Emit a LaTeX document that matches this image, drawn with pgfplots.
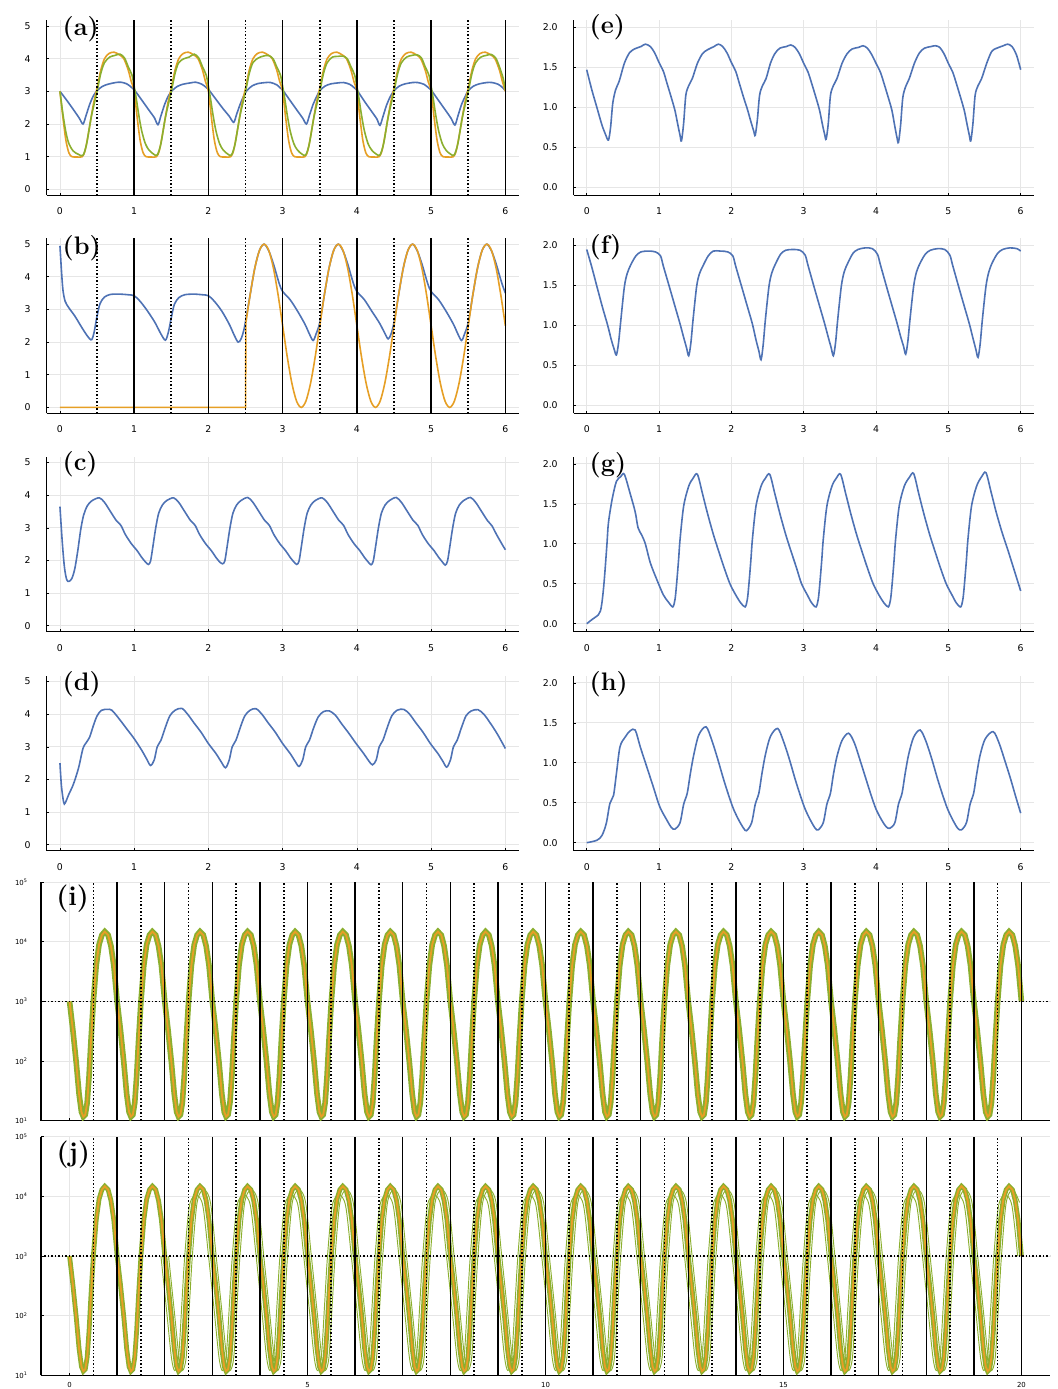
\documentclass[border=0pt]{standalone}
\usepackage{fontspec}
\newfontfamily\tickfont{DejaVu Sans}
\usepackage{pgfplots}
\usepackage{pgfplotstable}
\pgfplotsset{compat=1.18}
\definecolor{cblue}{HTML}{4E72B4}
\definecolor{corange}{HTML}{E69F25}
\definecolor{cgreen}{HTML}{8BAF2F}
\definecolor{gridgray}{HTML}{E6E6E6}

\tikzset{
  solline/.style={black, line width=1.1pt},
  dotline/.style={black, line width=1.25pt, dash pattern=on 1.1pt off 1.5pt},
  lab/.style={anchor=base west, font=\fontsize{19}{19}\selectfont\bfseries},
}
\pgfplotsset{
  pbase/.style={scale only axis, anchor=south west,
    axis x line=bottom, axis y line=left, axis line style={-,black,line width=0.8pt},
    grid=major, major grid style={gridgray,line width=0.6pt},
    tick align=inside, major tick length=2pt, tick style={black,line width=0.5pt},
    /pgf/number format/assume math mode=true},
  psmall/.style={pbase, xmin=-0.18, xmax=6.18, xtick={0,...,6}, height=131.25pt,
    tick label style={font=\tickfont\fontsize{7}{8}\selectfont},
    xticklabel style={yshift=-6pt}, yticklabel style={xshift=-8.5pt}},
  plcol/.style={psmall, width=354.1pt, ymin=-0.18, ymax=5.18, ytick={0,...,5}},
  prcol/.style={psmall, width=345pt, ymin=-0.1, ymax=2.09, ytick={0,0.5,1,1.5,2},
    yticklabels={0.0,0.5,1.0,1.5,2.0}},
  pwide/.style={pbase, width=756.75pt, height=178.9pt, xmin=-0.6, xmax=20.6,
    xtick={0,5,10,15,20}, ymin=10, ymax=100000,
    ytick={10,100,1000,10000,100000},
    yticklabels={10\textsuperscript{1},10\textsuperscript{2},10\textsuperscript{3},10\textsuperscript{4},10\textsuperscript{5}},
    yminorticks=false, tick label style={font=\tickfont\fontsize{5.2}{6}\selectfont},
    yticklabel style={xshift=-6.5pt}, xticklabel style={yshift=-1.6pt}},
  cv/.style={line width=1.2pt, smooth, tension=0.5},
}

\pgfplotstableread[row sep=\\]{
x y\\
0 1000\\ 0.07 330\\ 0.14 95\\ 0.2 28\\ 0.25 14\\ 0.29 11.7\\ 0.33 12.6\\ 0.37 20\\ 0.41 56\\ 0.45 220\\ 0.5 1000\\ 0.56 4000\\ 0.62 9000\\ 0.68 13000\\ 0.74 14800\\ 0.81 13000\\ 0.87 8500\\ 0.93 4000\\
1 1000\\ 1.07 330\\ 1.14 95\\ 1.2 28\\ 1.25 14\\ 1.29 11.7\\ 1.33 12.6\\ 1.37 20\\ 1.41 56\\ 1.45 220\\ 1.5 1000\\ 1.56 4000\\ 1.62 9000\\ 1.68 13000\\ 1.74 14800\\ 1.81 13000\\ 1.87 8500\\ 1.93 4000\\
2 1000\\ 2.07 330\\ 2.14 95\\ 2.2 28\\ 2.25 14\\ 2.29 11.7\\ 2.33 12.6\\ 2.37 20\\ 2.41 56\\ 2.45 220\\ 2.5 1000\\ 2.56 4000\\ 2.62 9000\\ 2.68 13000\\ 2.74 14800\\ 2.81 13000\\ 2.87 8500\\ 2.93 4000\\
3 1000\\ 3.07 330\\ 3.14 95\\ 3.2 28\\ 3.25 14\\ 3.29 11.7\\ 3.33 12.6\\ 3.37 20\\ 3.41 56\\ 3.45 220\\ 3.5 1000\\ 3.56 4000\\ 3.62 9000\\ 3.68 13000\\ 3.74 14800\\ 3.81 13000\\ 3.87 8500\\ 3.93 4000\\
4 1000\\ 4.07 330\\ 4.14 95\\ 4.2 28\\ 4.25 14\\ 4.29 11.7\\ 4.33 12.6\\ 4.37 20\\ 4.41 56\\ 4.45 220\\ 4.5 1000\\ 4.56 4000\\ 4.62 9000\\ 4.68 13000\\ 4.74 14800\\ 4.81 13000\\ 4.87 8500\\ 4.93 4000\\
5 1000\\ 5.07 330\\ 5.14 95\\ 5.2 28\\ 5.25 14\\ 5.29 11.7\\ 5.33 12.6\\ 5.37 20\\ 5.41 56\\ 5.45 220\\ 5.5 1000\\ 5.56 4000\\ 5.62 9000\\ 5.68 13000\\ 5.74 14800\\ 5.81 13000\\ 5.87 8500\\ 5.93 4000\\
6 1000\\ 6.07 330\\ 6.14 95\\ 6.2 28\\ 6.25 14\\ 6.29 11.7\\ 6.33 12.6\\ 6.37 20\\ 6.41 56\\ 6.45 220\\ 6.5 1000\\ 6.56 4000\\ 6.62 9000\\ 6.68 13000\\ 6.74 14800\\ 6.81 13000\\ 6.87 8500\\ 6.93 4000\\
7 1000\\ 7.07 330\\ 7.14 95\\ 7.2 28\\ 7.25 14\\ 7.29 11.7\\ 7.33 12.6\\ 7.37 20\\ 7.41 56\\ 7.45 220\\ 7.5 1000\\ 7.56 4000\\ 7.62 9000\\ 7.68 13000\\ 7.74 14800\\ 7.81 13000\\ 7.87 8500\\ 7.93 4000\\
8 1000\\ 8.07 330\\ 8.14 95\\ 8.2 28\\ 8.25 14\\ 8.29 11.7\\ 8.33 12.6\\ 8.37 20\\ 8.41 56\\ 8.45 220\\ 8.5 1000\\ 8.56 4000\\ 8.62 9000\\ 8.68 13000\\ 8.74 14800\\ 8.81 13000\\ 8.87 8500\\ 8.93 4000\\
9 1000\\ 9.07 330\\ 9.14 95\\ 9.2 28\\ 9.25 14\\ 9.29 11.7\\ 9.33 12.6\\ 9.37 20\\ 9.41 56\\ 9.45 220\\ 9.5 1000\\ 9.56 4000\\ 9.62 9000\\ 9.68 13000\\ 9.74 14800\\ 9.81 13000\\ 9.87 8500\\ 9.93 4000\\
10 1000\\ 10.07 330\\ 10.14 95\\ 10.2 28\\ 10.25 14\\ 10.29 11.7\\ 10.33 12.6\\ 10.37 20\\ 10.41 56\\ 10.45 220\\ 10.5 1000\\ 10.56 4000\\ 10.62 9000\\ 10.68 13000\\ 10.74 14800\\ 10.81 13000\\ 10.87 8500\\ 10.93 4000\\
11 1000\\ 11.07 330\\ 11.14 95\\ 11.2 28\\ 11.25 14\\ 11.29 11.7\\ 11.33 12.6\\ 11.37 20\\ 11.41 56\\ 11.45 220\\ 11.5 1000\\ 11.56 4000\\ 11.62 9000\\ 11.68 13000\\ 11.74 14800\\ 11.81 13000\\ 11.87 8500\\ 11.93 4000\\
12 1000\\ 12.07 330\\ 12.14 95\\ 12.2 28\\ 12.25 14\\ 12.29 11.7\\ 12.33 12.6\\ 12.37 20\\ 12.41 56\\ 12.45 220\\ 12.5 1000\\ 12.56 4000\\ 12.62 9000\\ 12.68 13000\\ 12.74 14800\\ 12.81 13000\\ 12.87 8500\\ 12.93 4000\\
13 1000\\ 13.07 330\\ 13.14 95\\ 13.2 28\\ 13.25 14\\ 13.29 11.7\\ 13.33 12.6\\ 13.37 20\\ 13.41 56\\ 13.45 220\\ 13.5 1000\\ 13.56 4000\\ 13.62 9000\\ 13.68 13000\\ 13.74 14800\\ 13.81 13000\\ 13.87 8500\\ 13.93 4000\\
14 1000\\ 14.07 330\\ 14.14 95\\ 14.2 28\\ 14.25 14\\ 14.29 11.7\\ 14.33 12.6\\ 14.37 20\\ 14.41 56\\ 14.45 220\\ 14.5 1000\\ 14.56 4000\\ 14.62 9000\\ 14.68 13000\\ 14.74 14800\\ 14.81 13000\\ 14.87 8500\\ 14.93 4000\\
15 1000\\ 15.07 330\\ 15.14 95\\ 15.2 28\\ 15.25 14\\ 15.29 11.7\\ 15.33 12.6\\ 15.37 20\\ 15.41 56\\ 15.45 220\\ 15.5 1000\\ 15.56 4000\\ 15.62 9000\\ 15.68 13000\\ 15.74 14800\\ 15.81 13000\\ 15.87 8500\\ 15.93 4000\\
16 1000\\ 16.07 330\\ 16.14 95\\ 16.2 28\\ 16.25 14\\ 16.29 11.7\\ 16.33 12.6\\ 16.37 20\\ 16.41 56\\ 16.45 220\\ 16.5 1000\\ 16.56 4000\\ 16.62 9000\\ 16.68 13000\\ 16.74 14800\\ 16.81 13000\\ 16.87 8500\\ 16.93 4000\\
17 1000\\ 17.07 330\\ 17.14 95\\ 17.2 28\\ 17.25 14\\ 17.29 11.7\\ 17.33 12.6\\ 17.37 20\\ 17.41 56\\ 17.45 220\\ 17.5 1000\\ 17.56 4000\\ 17.62 9000\\ 17.68 13000\\ 17.74 14800\\ 17.81 13000\\ 17.87 8500\\ 17.93 4000\\
18 1000\\ 18.07 330\\ 18.14 95\\ 18.2 28\\ 18.25 14\\ 18.29 11.7\\ 18.33 12.6\\ 18.37 20\\ 18.41 56\\ 18.45 220\\ 18.5 1000\\ 18.56 4000\\ 18.62 9000\\ 18.68 13000\\ 18.74 14800\\ 18.81 13000\\ 18.87 8500\\ 18.93 4000\\
19 1000\\ 19.07 330\\ 19.14 95\\ 19.2 28\\ 19.25 14\\ 19.29 11.7\\ 19.33 12.6\\ 19.37 20\\ 19.41 56\\ 19.45 220\\ 19.5 1000\\ 19.56 4000\\ 19.62 9000\\ 19.68 13000\\ 19.74 14800\\ 19.81 13000\\ 19.87 8500\\ 19.93 4000\\
20 1000\\
}\tabosc

\begin{document}
\begin{tikzpicture}[x=0.75pt,y=0.75pt]

% (a)
\begin{axis}[plcol, at={(34.95pt,895.35pt)}]
\addplot[cv, cblue] coordinates {(0,3.0)(0.1,2.7)(0.2,2.38)(0.26,2.18)(0.31,2.0)(0.35,2.25)(0.4,2.6)(0.45,2.86)(0.5,3.02)(0.57,3.15)(0.65,3.22)(0.75,3.27)(0.82,3.28)(0.9,3.23)(0.96,3.13)
(1.0,3.05)(1.1,2.74)(1.2,2.42)(1.27,2.2)(1.32,1.98)(1.36,2.25)(1.41,2.6)(1.46,2.86)(1.51,3.02)(1.58,3.15)(1.66,3.22)(1.76,3.26)(1.83,3.28)(1.91,3.22)(1.97,3.12)
(2.0,3.06)(2.1,2.76)(2.2,2.46)(2.28,2.24)(2.34,2.05)(2.38,2.3)(2.43,2.62)(2.48,2.88)(2.52,3.03)(2.59,3.17)(2.67,3.24)(2.77,3.27)(2.84,3.27)(2.92,3.2)(2.97,3.1)
(3.0,3.04)(3.1,2.72)(3.2,2.4)(3.27,2.18)(3.32,2.0)(3.36,2.26)(3.41,2.6)(3.46,2.85)(3.5,3.02)(3.57,3.16)(3.65,3.23)(3.75,3.26)(3.82,3.27)(3.9,3.22)(3.96,3.12)
(4.0,3.04)(4.1,2.7)(4.2,2.38)(4.27,2.15)(4.31,1.96)(4.35,2.22)(4.4,2.58)(4.45,2.84)(4.5,3.02)(4.57,3.16)(4.65,3.23)(4.75,3.27)(4.82,3.27)(4.9,3.22)(4.96,3.12)
(5.0,3.04)(5.1,2.72)(5.2,2.4)(5.27,2.17)(5.32,1.97)(5.36,2.24)(5.41,2.6)(5.46,2.85)(5.5,3.02)(5.57,3.16)(5.65,3.23)(5.75,3.27)(5.82,3.27)(5.9,3.22)(5.96,3.12)(6.0,3.02)};
\addplot[cv, corange] coordinates {(0,3.0)(0.04,2.2)(0.08,1.5)(0.12,1.12)(0.16,1.0)(0.23,0.99)(0.3,1.0)(0.34,1.2)(0.39,1.8)(0.45,2.6)(0.5,3.1)(0.55,3.65)(0.6,4.0)(0.66,4.16)(0.73,4.2)(0.8,4.12)(0.86,4.0)(0.92,3.65)(0.96,3.3)
(1,3.0)(1.04,2.2)(1.08,1.5)(1.12,1.12)(1.16,1.0)(1.23,0.99)(1.3,1.0)(1.34,1.2)(1.39,1.8)(1.45,2.6)(1.5,3.1)(1.55,3.65)(1.6,4.0)(1.66,4.16)(1.73,4.2)(1.8,4.12)(1.86,4.0)(1.92,3.65)(1.96,3.3)
(2,3.0)(2.04,2.2)(2.08,1.5)(2.12,1.12)(2.16,1.0)(2.23,0.99)(2.3,1.0)(2.34,1.2)(2.39,1.8)(2.45,2.6)(2.5,3.1)(2.55,3.65)(2.6,4.0)(2.66,4.16)(2.73,4.2)(2.8,4.12)(2.86,4.0)(2.92,3.65)(2.96,3.3)
(3,3.0)(3.04,2.2)(3.08,1.5)(3.12,1.12)(3.16,1.0)(3.23,0.99)(3.3,1.0)(3.34,1.2)(3.39,1.8)(3.45,2.6)(3.5,3.1)(3.55,3.65)(3.6,4.0)(3.66,4.16)(3.73,4.2)(3.8,4.12)(3.86,4.0)(3.92,3.65)(3.96,3.3)
(4,3.0)(4.04,2.2)(4.08,1.5)(4.12,1.12)(4.16,1.0)(4.23,0.99)(4.3,1.0)(4.34,1.2)(4.39,1.8)(4.45,2.6)(4.5,3.1)(4.55,3.65)(4.6,4.0)(4.66,4.16)(4.73,4.2)(4.8,4.12)(4.86,4.0)(4.92,3.65)(4.96,3.3)
(5,3.0)(5.04,2.2)(5.08,1.5)(5.12,1.12)(5.16,1.0)(5.23,0.99)(5.3,1.0)(5.34,1.2)(5.39,1.8)(5.45,2.6)(5.5,3.1)(5.55,3.65)(5.6,4.0)(5.66,4.16)(5.73,4.2)(5.8,4.12)(5.86,4.0)(5.92,3.65)(5.96,3.3)(6,3.0)};
\addplot[cv, cgreen] coordinates {(0,3.0)(0.04,2.3)(0.08,1.75)(0.12,1.4)(0.18,1.17)(0.25,1.07)(0.31,1.04)(0.36,1.4)(0.42,2.2)(0.5,3.0)(0.55,3.55)(0.6,3.88)(0.67,4.05)(0.74,4.1)(0.81,4.14)(0.87,4.02)(0.92,3.75)(0.97,3.5)
(1,3.15)(1.03,2.75)(1.06,2.3)(1.1,1.8)(1.15,1.4)(1.2,1.2)(1.26,1.08)(1.31,1.05)(1.36,1.4)(1.42,2.2)(1.5,3.0)(1.55,3.55)(1.6,3.88)(1.67,4.0)(1.74,4.05)(1.81,4.14)(1.87,4.02)(1.92,3.75)(1.97,3.5)
(2,3.15)(2.03,2.75)(2.06,2.3)(2.1,1.8)(2.15,1.4)(2.2,1.2)(2.26,1.08)(2.31,1.05)(2.36,1.4)(2.42,2.2)(2.5,3.0)(2.55,3.55)(2.6,3.88)(2.67,4.02)(2.74,4.08)(2.81,4.1)(2.87,4.0)(2.92,3.75)(2.97,3.5)
(3,3.15)(3.03,2.75)(3.06,2.3)(3.1,1.8)(3.15,1.4)(3.2,1.2)(3.26,1.08)(3.31,1.05)(3.36,1.4)(3.42,2.2)(3.5,3.0)(3.55,3.55)(3.6,3.88)(3.67,4.05)(3.74,4.07)(3.81,4.08)(3.87,4.0)(3.92,3.75)(3.97,3.5)
(4,3.15)(4.03,2.75)(4.06,2.3)(4.1,1.8)(4.15,1.4)(4.2,1.2)(4.26,1.08)(4.31,1.05)(4.36,1.4)(4.42,2.2)(4.5,3.0)(4.55,3.55)(4.6,3.88)(4.67,4.05)(4.74,4.1)(4.81,4.12)(4.87,4.02)(4.92,3.75)(4.97,3.5)
(5,3.15)(5.03,2.75)(5.06,2.3)(5.1,1.8)(5.15,1.4)(5.2,1.2)(5.26,1.08)(5.31,1.05)(5.36,1.4)(5.42,2.2)(5.5,3.0)(5.55,3.55)(5.6,3.88)(5.67,4.05)(5.74,4.1)(5.81,4.13)(5.87,4.02)(5.92,3.75)(5.97,3.4)(6,3.05)};
\pgfplotsinvokeforeach{1,...,6}{\draw[solline] (#1,-0.18) -- (#1,5.18);}
\pgfplotsinvokeforeach{0.5,1.5,2.5,3.5,4.5,5.5}{\draw[dotline] (#1,-0.18) -- (#1,5.18);}
\end{axis}

% (b)
\begin{axis}[plcol, at={(34.95pt,731.775pt)}]
\addplot[cv, cblue] coordinates {(0,4.95)(0.02,4.2)(0.04,3.6)(0.07,3.25)(0.12,3.05)(0.2,2.8)(0.28,2.5)(0.35,2.25)(0.4,2.1)(0.43,2.08)(0.46,2.3)(0.5,2.8)(0.54,3.18)(0.6,3.38)(0.68,3.46)(0.8,3.47)(0.92,3.45)(1.0,3.42)
(1.08,3.25)(1.18,2.95)(1.28,2.6)(1.36,2.25)(1.42,2.06)(1.46,2.3)(1.5,2.75)(1.54,3.15)(1.6,3.36)(1.68,3.45)(1.8,3.47)(1.92,3.45)(2.0,3.42)
(2.08,3.25)(2.18,2.95)(2.28,2.55)(2.35,2.2)(2.4,2.0)(2.44,2.1)(2.48,2.4)(2.52,2.9)(2.5625,3.46)(2.625,4.27)(2.6875,4.81)(2.75,5.0)(2.8125,4.8)(2.875,4.4)(2.92,4.05)(2.96,3.75)(3.0,3.55)
(3.1,3.3)(3.2,2.95)(3.3,2.55)(3.36,2.25)(3.41,2.05)(3.45,2.25)(3.5,2.6)(3.5625,3.46)(3.625,4.27)(3.6875,4.81)(3.75,5.0)(3.8125,4.8)(3.875,4.4)(3.92,4.05)(3.96,3.75)(4.0,3.55)
(4.1,3.3)(4.2,2.95)(4.3,2.6)(4.37,2.3)(4.42,2.1)(4.46,2.25)(4.5,2.6)(4.5625,3.46)(4.625,4.27)(4.6875,4.81)(4.75,5.0)(4.8125,4.8)(4.875,4.4)(4.92,4.05)(4.96,3.75)(5.0,3.55)
(5.1,3.3)(5.2,2.95)(5.3,2.55)(5.36,2.25)(5.41,2.05)(5.45,2.25)(5.5,2.6)(5.5625,3.46)(5.625,4.27)(5.6875,4.81)(5.75,5.0)(5.8125,4.8)(5.875,4.4)(5.92,4.05)(5.96,3.75)(6.0,3.5)};
\addplot[line width=1.2pt, corange] coordinates {(0,0)(2.5,0)(2.505,2.6)};
\addplot[cv, corange] coordinates {(2.505,2.6)(2.5625,3.46)(2.625,4.27)(2.6875,4.81)(2.75,5.0)(2.8125,4.81)(2.875,4.27)(2.9375,3.46)
(3,2.5)(3.0625,1.54)(3.125,0.73)(3.1875,0.19)(3.25,0)(3.3125,0.19)(3.375,0.73)(3.4375,1.54)(3.5,2.5)(3.5625,3.46)(3.625,4.27)(3.6875,4.81)(3.75,5.0)(3.8125,4.81)(3.875,4.27)(3.9375,3.46)
(4,2.5)(4.0625,1.54)(4.125,0.73)(4.1875,0.19)(4.25,0)(4.3125,0.19)(4.375,0.73)(4.4375,1.54)(4.5,2.5)(4.5625,3.46)(4.625,4.27)(4.6875,4.81)(4.75,5.0)(4.8125,4.81)(4.875,4.27)(4.9375,3.46)
(5,2.5)(5.0625,1.54)(5.125,0.73)(5.1875,0.19)(5.25,0)(5.3125,0.19)(5.375,0.73)(5.4375,1.54)(5.5,2.5)(5.5625,3.46)(5.625,4.27)(5.6875,4.81)(5.75,5.0)(5.8125,4.81)(5.875,4.27)(5.9375,3.46)(6,2.5)};
\pgfplotsinvokeforeach{1,...,6}{\draw[solline] (#1,-0.18) -- (#1,5.18);}
\pgfplotsinvokeforeach{0.5,1.5,2.5,3.5,4.5,5.5}{\draw[dotline] (#1,-0.18) -- (#1,5.18);}
\end{axis}

% (c)
\begin{axis}[plcol, at={(34.95pt,567.975pt)}]
\addplot[cv, cblue] coordinates {(0,3.65)(0.03,2.6)(0.06,1.8)(0.09,1.42)(0.12,1.36)(0.16,1.45)(0.2,1.75)(0.24,2.3)(0.28,2.95)(0.32,3.4)(0.37,3.68)(0.43,3.83)(0.53,3.92)
(0.6,3.78)(0.68,3.5)(0.76,3.22)(0.82,3.08)(0.88,2.8)(0.96,2.52)(1.04,2.3)(1.1,2.1)(1.15,1.96)(1.19,1.88)(1.22,1.98)(1.25,2.4)(1.29,3.0)(1.33,3.45)(1.38,3.7)(1.44,3.84)(1.53,3.92)
(1.6,3.78)(1.68,3.5)(1.76,3.22)(1.82,3.08)(1.88,2.8)(1.96,2.52)(2.04,2.3)(2.1,2.1)(2.15,1.96)(2.19,1.9)(2.22,1.98)(2.25,2.4)(2.29,3.0)(2.33,3.45)(2.38,3.7)(2.44,3.84)(2.53,3.93)
(2.6,3.78)(2.68,3.5)(2.76,3.22)(2.82,3.08)(2.88,2.8)(2.96,2.52)(3.04,2.3)(3.1,2.1)(3.15,1.96)(3.19,1.88)(3.22,1.98)(3.25,2.4)(3.29,3.0)(3.33,3.45)(3.38,3.7)(3.44,3.84)(3.53,3.92)
(3.6,3.78)(3.68,3.5)(3.76,3.22)(3.82,3.08)(3.88,2.8)(3.96,2.52)(4.04,2.3)(4.1,2.1)(4.15,1.96)(4.19,1.87)(4.22,1.98)(4.25,2.4)(4.29,3.0)(4.33,3.45)(4.38,3.7)(4.44,3.84)(4.53,3.93)
(4.6,3.78)(4.68,3.5)(4.76,3.22)(4.82,3.08)(4.88,2.8)(4.96,2.52)(5.04,2.3)(5.1,2.1)(5.15,1.96)(5.19,1.86)(5.22,1.98)(5.25,2.4)(5.29,3.0)(5.33,3.45)(5.38,3.7)(5.44,3.84)(5.53,3.93)
(5.6,3.78)(5.68,3.5)(5.76,3.22)(5.82,3.06)(5.88,2.8)(5.96,2.48)(6.0,2.33)};
\end{axis}

% (d)
\begin{axis}[plcol, at={(34.95pt,403.725pt)}]
\addplot[cv, cblue] coordinates {(0,2.5)(0.02,1.8)(0.05,1.3)(0.07,1.28)(0.12,1.55)(0.18,1.85)(0.25,2.35)(0.31,2.95)(0.36,3.15)(0.4,3.3)(0.45,3.65)(0.5,3.95)(0.56,4.12)(0.64,4.15)(0.7,4.12)(0.8,3.85)(0.9,3.55)(1.0,3.25)(1.1,2.9)(1.17,2.62)(1.22,2.43)
(1.27,2.6)(1.31,3.0)(1.36,3.2)(1.42,3.6)(1.48,3.95)(1.55,4.12)(1.64,4.18)(1.72,4.0)(1.8,3.75)(1.9,3.45)(2.0,3.1)(2.1,2.8)(2.17,2.55)(2.23,2.36)
(2.28,2.6)(2.32,3.0)(2.37,3.2)(2.43,3.6)(2.49,3.95)(2.56,4.12)(2.64,4.17)(2.72,4.0)(2.8,3.75)(2.9,3.45)(3.0,3.1)(3.1,2.8)(3.17,2.55)(3.22,2.4)
(3.27,2.6)(3.31,3.0)(3.36,3.2)(3.42,3.6)(3.48,3.92)(3.55,4.08)(3.63,4.1)(3.71,3.97)(3.79,3.72)(3.89,3.42)(3.99,3.1)(4.09,2.8)(4.16,2.57)(4.21,2.45)
(4.26,2.6)(4.3,3.0)(4.35,3.2)(4.41,3.6)(4.47,3.95)(4.54,4.12)(4.63,4.15)(4.71,4.0)(4.79,3.75)(4.89,3.45)(4.99,3.1)(5.09,2.8)(5.16,2.55)(5.21,2.38)
(5.26,2.6)(5.3,3.0)(5.35,3.2)(5.41,3.6)(5.47,3.95)(5.54,4.1)(5.63,4.14)(5.71,4.0)(5.79,3.75)(5.89,3.4)(6.0,2.95)};
\end{axis}

% (e)
\begin{axis}[prcol, at={(430.275pt,895.35pt)}]
\addplot[cv, cblue] coordinates {(0,1.47)(0.07,1.22)(0.14,1.0)(0.21,0.78)(0.26,0.66)(0.3,0.59)(0.33,0.75)(0.36,1.05)(0.4,1.22)(0.45,1.33)(0.52,1.55)(0.59,1.68)(0.66,1.73)(0.75,1.76)(0.81,1.79)(0.88,1.76)(0.94,1.68)
(1,1.56)(1.06,1.45)(1.11,1.3)(1.17,1.12)(1.22,0.96)(1.26,0.78)(1.29,0.65)(1.31,0.58)(1.34,0.8)(1.37,1.15)(1.41,1.27)(1.46,1.36)(1.53,1.55)(1.6,1.67)(1.67,1.72)(1.76,1.76)(1.82,1.79)(1.88,1.76)(1.94,1.68)
(2,1.56)(2.06,1.45)(2.11,1.3)(2.17,1.12)(2.22,0.98)(2.27,0.82)(2.31,0.7)(2.33,0.65)(2.36,0.85)(2.39,1.15)(2.43,1.27)(2.48,1.36)(2.54,1.55)(2.6,1.67)(2.67,1.74)(2.76,1.76)(2.82,1.78)(2.88,1.75)(2.94,1.67)
(3,1.55)(3.06,1.44)(3.11,1.3)(3.17,1.12)(3.22,0.96)(3.26,0.78)(3.29,0.66)(3.31,0.6)(3.34,0.8)(3.37,1.15)(3.41,1.27)(3.46,1.36)(3.53,1.55)(3.6,1.67)(3.67,1.73)(3.76,1.75)(3.82,1.77)(3.88,1.74)(3.94,1.66)
(4,1.55)(4.06,1.44)(4.11,1.3)(4.17,1.12)(4.22,0.96)(4.26,0.76)(4.29,0.62)(4.31,0.56)(4.34,0.78)(4.37,1.12)(4.41,1.26)(4.46,1.36)(4.53,1.55)(4.6,1.68)(4.67,1.74)(4.76,1.76)(4.82,1.77)(4.88,1.75)(4.94,1.67)
(5,1.55)(5.06,1.44)(5.11,1.3)(5.17,1.12)(5.22,0.96)(5.26,0.78)(5.29,0.65)(5.31,0.58)(5.34,0.8)(5.37,1.15)(5.41,1.27)(5.46,1.36)(5.53,1.55)(5.6,1.7)(5.67,1.74)(5.76,1.77)(5.82,1.79)(5.88,1.76)(5.94,1.66)(6,1.47)};
\end{axis}

% (f)
\begin{axis}[prcol, at={(430.275pt,731.775pt)}]
\addplot[cv, cblue] coordinates {(0,1.95)(0.07,1.73)(0.14,1.49)(0.22,1.22)(0.29,1.0)(0.34,0.82)(0.38,0.7)(0.41,0.63)(0.44,0.78)(0.47,1.05)(0.52,1.48)(0.56,1.65)(0.61,1.76)(0.68,1.87)(0.75,1.92)(0.85,1.93)(0.95,1.92)
(1.02,1.87)(1.06,1.74)(1.15,1.46)(1.22,1.24)(1.29,1.02)(1.34,0.85)(1.38,0.72)(1.41,0.62)(1.44,0.78)(1.47,1.07)(1.52,1.49)(1.56,1.65)(1.61,1.75)(1.68,1.87)(1.75,1.93)(1.85,1.93)(1.95,1.92)
(2.02,1.87)(2.06,1.74)(2.15,1.46)(2.22,1.24)(2.29,1.02)(2.34,0.82)(2.38,0.68)(2.41,0.57)(2.44,0.76)(2.47,1.07)(2.52,1.49)(2.56,1.66)(2.61,1.77)(2.68,1.89)(2.75,1.94)(2.85,1.95)(2.95,1.94)
(3.02,1.88)(3.06,1.75)(3.15,1.46)(3.22,1.24)(3.29,1.02)(3.34,0.85)(3.38,0.72)(3.41,0.62)(3.44,0.78)(3.47,1.07)(3.52,1.49)(3.56,1.67)(3.61,1.78)(3.68,1.9)(3.75,1.95)(3.85,1.97)(3.95,1.96)
(4.02,1.89)(4.06,1.76)(4.15,1.47)(4.22,1.25)(4.29,1.03)(4.34,0.86)(4.38,0.74)(4.41,0.64)(4.44,0.8)(4.47,1.08)(4.52,1.49)(4.56,1.67)(4.61,1.78)(4.68,1.89)(4.75,1.94)(4.85,1.96)(4.95,1.95)
(5.02,1.88)(5.06,1.75)(5.15,1.46)(5.22,1.24)(5.29,1.02)(5.34,0.84)(5.38,0.7)(5.41,0.6)(5.44,0.77)(5.47,1.07)(5.52,1.49)(5.56,1.67)(5.61,1.79)(5.68,1.9)(5.75,1.95)(5.85,1.97)(5.95,1.96)(6,1.93)};
\end{axis}

% (g)
\begin{axis}[prcol, at={(430.275pt,567.975pt)}]
\addplot[cv, cblue] coordinates {(0,0)(0.07,0.05)(0.16,0.11)(0.19,0.16)(0.21,0.26)(0.23,0.42)(0.25,0.63)(0.28,1.0)(0.3,1.26)(0.35,1.55)(0.41,1.78)(0.47,1.84)(0.52,1.87)
(0.6,1.63)(0.67,1.4)(0.71,1.2)(0.76,1.11)(0.81,1.0)(0.88,0.76)(0.97,0.55)(1.06,0.36)(1.13,0.27)(1.19,0.21)(1.22,0.3)(1.24,0.47)(1.27,0.8)(1.29,1.05)(1.34,1.47)(1.41,1.72)(1.47,1.82)(1.53,1.87)
(1.6,1.63)(1.67,1.38)(1.75,1.12)(1.82,0.92)(1.9,0.7)(1.98,0.5)(2.06,0.36)(2.13,0.26)(2.19,0.21)(2.22,0.3)(2.24,0.47)(2.27,0.8)(2.29,1.05)(2.34,1.47)(2.41,1.72)(2.47,1.82)(2.53,1.87)
(2.6,1.63)(2.67,1.38)(2.75,1.12)(2.82,0.92)(2.9,0.7)(2.97,0.5)(3.05,0.36)(3.11,0.26)(3.17,0.21)(3.2,0.3)(3.22,0.47)(3.25,0.8)(3.27,1.05)(3.32,1.47)(3.39,1.72)(3.45,1.82)(3.51,1.87)
(3.58,1.63)(3.65,1.38)(3.73,1.12)(3.8,0.92)(3.88,0.7)(3.96,0.5)(4.04,0.36)(4.11,0.26)(4.17,0.21)(4.2,0.3)(4.22,0.47)(4.25,0.8)(4.27,1.05)(4.32,1.47)(4.39,1.72)(4.46,1.83)(4.52,1.88)
(4.59,1.63)(4.66,1.38)(4.74,1.12)(4.81,0.92)(4.89,0.7)(4.97,0.5)(5.05,0.36)(5.11,0.26)(5.17,0.21)(5.2,0.3)(5.22,0.47)(5.25,0.8)(5.27,1.05)(5.32,1.47)(5.39,1.72)(5.46,1.84)(5.52,1.89)
(5.59,1.65)(5.66,1.4)(5.74,1.15)(5.82,0.93)(5.9,0.7)(6.0,0.41)};
\end{axis}

% (h)
\begin{axis}[prcol, at={(430.275pt,403.725pt)}]
\addplot[cv, cblue] coordinates {(0,0)(0.14,0.03)(0.21,0.09)(0.27,0.24)(0.32,0.49)(0.37,0.59)(0.41,0.86)(0.46,1.2)(0.53,1.32)(0.6,1.4)(0.67,1.41)(0.74,1.2)(0.83,0.95)(0.92,0.7)(1.01,0.45)(1.11,0.28)(1.17,0.19)(1.22,0.17)
(1.29,0.25)(1.34,0.48)(1.39,0.62)(1.43,0.85)(1.48,1.1)(1.55,1.35)(1.65,1.45)(1.73,1.28)(1.81,1.05)(1.89,0.8)(1.96,0.6)(2.03,0.42)(2.11,0.27)(2.17,0.18)(2.21,0.15)
(2.28,0.25)(2.33,0.48)(2.38,0.62)(2.42,0.85)(2.47,1.1)(2.54,1.33)(2.64,1.43)(2.72,1.27)(2.8,1.05)(2.88,0.8)(2.95,0.6)(3.02,0.42)(3.1,0.27)(3.16,0.18)(3.2,0.16)
(3.27,0.25)(3.32,0.48)(3.37,0.62)(3.41,0.85)(3.46,1.08)(3.53,1.28)(3.62,1.37)(3.7,1.25)(3.78,1.03)(3.86,0.8)(3.93,0.6)(4.0,0.42)(4.08,0.28)(4.14,0.2)(4.19,0.18)
(4.26,0.25)(4.31,0.48)(4.36,0.62)(4.4,0.85)(4.45,1.1)(4.52,1.32)(4.61,1.41)(4.69,1.27)(4.77,1.05)(4.85,0.8)(4.92,0.6)(4.99,0.42)(5.07,0.27)(5.13,0.18)(5.18,0.16)
(5.25,0.25)(5.3,0.48)(5.35,0.62)(5.39,0.85)(5.44,1.1)(5.51,1.3)(5.62,1.39)(5.7,1.25)(5.78,1.03)(5.86,0.8)(5.93,0.58)(6.0,0.37)};
\end{axis}

% (i)
\begin{axis}[ymode=log, pwide, at={(30.75pt,201.225pt)}, xticklabels={}]
\addplot[cgreen, line width=4.2pt] table {\tabosc};
\addplot[corange, line width=1.4pt] table {\tabosc};
\pgfplotsinvokeforeach{1,...,20}{\draw[solline] (#1,10) -- (#1,100000);}
\pgfplotsinvokeforeach{0.5,1.5,...,19.5}{\draw[dotline] (#1,10) -- (#1,100000);}
\draw[dotline] (-0.6,1000) -- (20.6,1000);
\end{axis}

% (j)
\begin{axis}[ymode=log, pwide, at={(30.75pt,10.275pt)}]
\addplot[cgreen, line width=3.6pt] table {\tabosc};
\addplot[cgreen, line width=0.7pt, smooth, tension=0.5] coordinates {
(1.92,1000)(2.04,120)(2.14,20)(2.21,12)(2.29,20)(2.36,160)(2.42,1000)(2.52,7000)(2.66,10500)(2.8,7000)
(2.92,1000)(3.04,120)(3.14,20)(3.21,12)(3.29,20)(3.36,160)(3.42,1000)(3.52,7000)(3.66,10500)(3.8,7000)
(3.92,1000)(4.04,120)(4.14,20)(4.21,12)(4.29,20)(4.36,160)(4.42,1000)(4.52,7000)(4.66,10500)(4.8,7000)
(4.92,1000)(5.04,120)(5.14,20)(5.21,12)(5.29,20)(5.36,160)(5.42,1000)(5.52,7000)(5.66,10500)(5.8,7000)
(5.92,1000)(6.04,120)(6.14,20)(6.21,12)(6.29,20)(6.36,160)(6.42,1000)(6.52,7000)(6.66,10500)(6.8,7000)
(6.92,1000)(7.04,120)(7.14,20)(7.21,12)(7.29,20)(7.36,160)(7.42,1000)(7.52,7000)(7.66,10500)(7.8,7000)
(7.92,1000)(8.04,120)(8.14,20)(8.21,12)(8.29,20)(8.36,160)(8.42,1000)(8.52,7000)(8.66,10500)(8.8,7000)
(8.92,1000)(9.04,120)(9.14,20)(9.21,12)(9.29,20)(9.36,160)(9.42,1000)(9.52,7000)(9.66,10500)(9.8,7000)
(9.92,1000)(10.04,120)(10.14,20)(10.21,12)(10.29,20)(10.36,160)(10.42,1000)(10.52,7000)(10.66,10500)(10.8,7000)
(10.92,1000)(11.04,120)(11.14,20)(11.21,12)(11.29,20)(11.36,160)(11.42,1000)(11.52,7000)(11.66,10500)(11.8,7000)
(11.92,1000)(12.04,120)(12.14,20)(12.21,12)(12.29,20)(12.36,160)(12.42,1000)(12.52,7000)(12.66,10500)(12.8,7000)
(12.92,1000)(13.04,120)(13.14,20)(13.21,12)(13.29,20)(13.36,160)(13.42,1000)(13.52,7000)(13.66,10500)(13.8,7000)
(13.92,1000)(14.04,120)(14.14,20)(14.21,12)(14.29,20)(14.36,160)(14.42,1000)(14.52,7000)(14.66,10500)(14.8,7000)
(14.92,1000)(15.04,120)(15.14,20)(15.21,12)(15.29,20)(15.36,160)(15.42,1000)(15.52,7000)(15.66,10500)(15.8,7000)
(15.92,1000)(16.04,120)(16.14,20)(16.21,12)(16.29,20)(16.36,160)(16.42,1000)(16.52,7000)(16.66,10500)(16.8,7000)
(16.92,1000)(17.04,120)(17.14,20)(17.21,12)(17.29,20)(17.36,160)(17.42,1000)(17.52,7000)(17.66,10500)(17.8,7000)
(17.92,1000)(18.04,120)(18.14,20)(18.21,12)(18.29,20)(18.36,160)(18.42,1000)(18.52,7000)(18.66,10500)(18.8,7000)
(18.92,1000)(19.04,120)(19.14,20)(19.21,12)(19.29,20)(19.36,160)(19.42,1000)(19.52,7000)(19.66,10500)(19.8,7000)(19.92,1000)};
\addplot[cgreen, line width=0.7pt, smooth, tension=0.5] coordinates {
(2.08,1000)(2.2,120)(2.3,20)(2.37,12)(2.45,20)(2.52,160)(2.58,1000)(2.68,7900)(2.82,13000)(2.96,7900)
(3.08,1000)(3.2,120)(3.3,20)(3.37,12)(3.45,20)(3.52,160)(3.58,1000)(3.68,7900)(3.82,13000)(3.96,7900)
(4.08,1000)(4.2,120)(4.3,20)(4.37,12)(4.45,20)(4.52,160)(4.58,1000)(4.68,7900)(4.82,13000)(4.96,7900)
(5.08,1000)(5.2,120)(5.3,20)(5.37,12)(5.45,20)(5.52,160)(5.58,1000)(5.68,7900)(5.82,13000)(5.96,7900)
(6.08,1000)(6.2,120)(6.3,20)(6.37,12)(6.45,20)(6.52,160)(6.58,1000)(6.68,7900)(6.82,13000)(6.96,7900)
(7.08,1000)(7.2,120)(7.3,20)(7.37,12)(7.45,20)(7.52,160)(7.58,1000)(7.68,7900)(7.82,13000)(7.96,7900)
(8.08,1000)(8.2,120)(8.3,20)(8.37,12)(8.45,20)(8.52,160)(8.58,1000)(8.68,7900)(8.82,13000)(8.96,7900)
(9.08,1000)(9.2,120)(9.3,20)(9.37,12)(9.45,20)(9.52,160)(9.58,1000)(9.68,7900)(9.82,13000)(9.96,7900)
(10.08,1000)(10.2,120)(10.3,20)(10.37,12)(10.45,20)(10.52,160)(10.58,1000)(10.68,7900)(10.82,13000)(10.96,7900)
(11.08,1000)(11.2,120)(11.3,20)(11.37,12)(11.45,20)(11.52,160)(11.58,1000)(11.68,7900)(11.82,13000)(11.96,7900)
(12.08,1000)(12.2,120)(12.3,20)(12.37,12)(12.45,20)(12.52,160)(12.58,1000)(12.68,7900)(12.82,13000)(12.96,7900)
(13.08,1000)(13.2,120)(13.3,20)(13.37,12)(13.45,20)(13.52,160)(13.58,1000)(13.68,7900)(13.82,13000)(13.96,7900)
(14.08,1000)(14.2,120)(14.3,20)(14.37,12)(14.45,20)(14.52,160)(14.58,1000)(14.68,7900)(14.82,13000)(14.96,7900)
(15.08,1000)(15.2,120)(15.3,20)(15.37,12)(15.45,20)(15.52,160)(15.58,1000)(15.68,7900)(15.82,13000)(15.96,7900)
(16.08,1000)(16.2,120)(16.3,20)(16.37,12)(16.45,20)(16.52,160)(16.58,1000)(16.68,7900)(16.82,13000)(16.96,7900)
(17.08,1000)(17.2,120)(17.3,20)(17.37,12)(17.45,20)(17.52,160)(17.58,1000)(17.68,7900)(17.82,13000)(17.96,7900)
(18.08,1000)(18.2,120)(18.3,20)(18.37,12)(18.45,20)(18.52,160)(18.58,1000)(18.68,7900)(18.82,13000)(18.96,7900)
(19.08,1000)(19.2,120)(19.3,20)(19.37,12)(19.45,20)(19.52,160)(19.58,1000)(19.68,7900)(19.82,13000)(19.96,7900)};
\addplot[corange, line width=1.4pt] table {\tabosc};
\pgfplotsinvokeforeach{1,...,20}{\draw[solline] (#1,10) -- (#1,100000);}
\pgfplotsinvokeforeach{0.5,1.5,...,19.5}{\draw[dotline] (#1,10) -- (#1,100000);}
\draw[dotline] (-0.6,1000) -- (20.6,1000);
\end{axis}

\node[lab] at (58,1353.3) {(a)};
\node[lab] at (58,1134.6) {(b)};
\node[lab] at (58,918.6) {(c)};
\node[lab] at (58,698.6) {(d)};
\node[lab] at (585,1355.3) {(e)};
\node[lab] at (585,1135.5) {(f)};
\node[lab] at (585,917) {(g)};
\node[lab] at (585,698) {(h)};
\node[lab, font=\fontsize{20.5}{20.5}\selectfont\bfseries] at (51.7,483) {(i)};
\node[lab, font=\fontsize{20.5}{20.5}\selectfont\bfseries] at (52,227.4) {(j)};

\pgfresetboundingbox
\path[use as bounding box] (0,0) rectangle (1057,1389);
\end{tikzpicture}
\end{document}
